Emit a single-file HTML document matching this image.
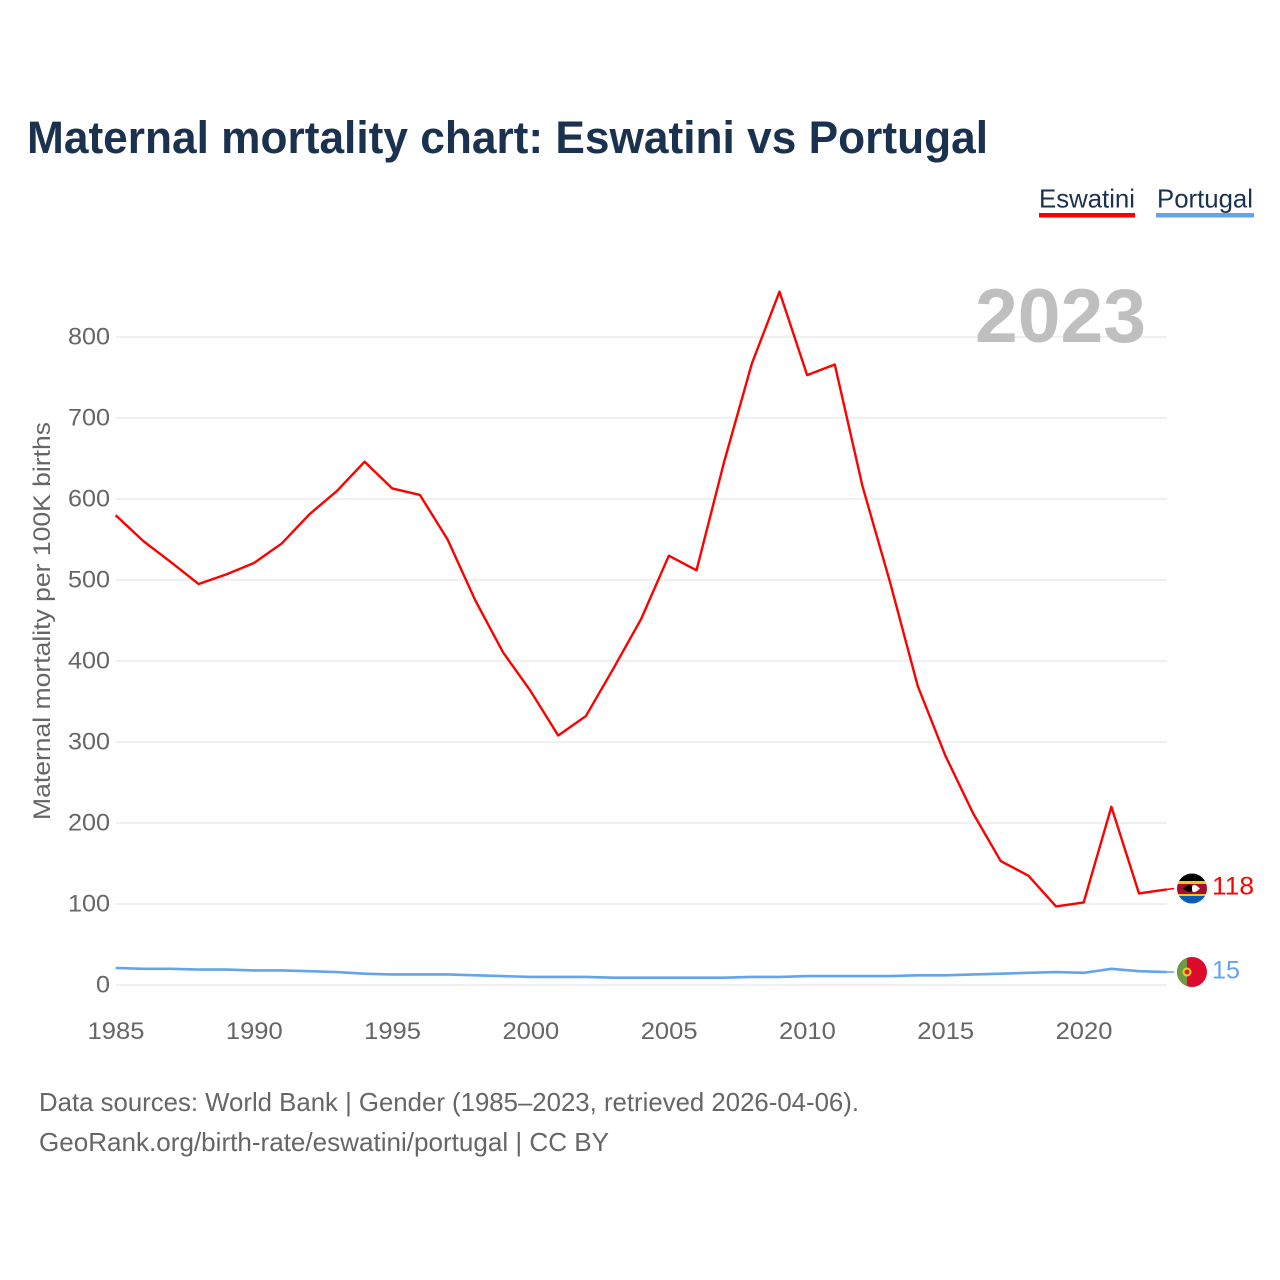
<!DOCTYPE html>
<html lang="en">
<head>
<meta charset="utf-8">
<title>Maternal mortality chart: Eswatini vs Portugal</title>
<style>
html,body{margin:0;padding:0;background:#fff;width:1280px;height:1280px;overflow:hidden}
svg{display:block;font-family:"Liberation Sans",Arial,sans-serif}
</style>
</head>
<body>
<svg id="chart" width="1280" height="1280" viewBox="0 0 1280 1280" xmlns="http://www.w3.org/2000/svg">
  <defs>
    <clipPath id="flag-clip-sz"><circle cx="1192" cy="888.5" r="15"/></clipPath>
    <clipPath id="flag-clip-pt"><circle cx="1192" cy="972" r="15"/></clipPath>
  </defs>
  <text x="27" y="153" font-size="45" font-weight="700" fill="#1a3150" textLength="961" lengthAdjust="spacingAndGlyphs">Maternal mortality chart: Eswatini vs Portugal</text>

  <g>
    <g>
      <text x="1039" y="207.5" font-size="26" fill="#1a3150" textLength="96" lengthAdjust="spacingAndGlyphs">Eswatini</text>
      <rect x="1039" y="213" width="96" height="4.5" fill="#ff0000"/>
    </g>
    <g>
      <text x="1157" y="207.5" font-size="26" fill="#1a3150" textLength="96" lengthAdjust="spacingAndGlyphs">Portugal</text>
      <rect x="1156" y="213" width="98" height="4.5" fill="#63a4ec"/>
    </g>
  </g>

  <g id="grid"></g>
  <text x="975" y="342" font-size="76" font-weight="700" fill="#bfbfbf" textLength="171" lengthAdjust="spacingAndGlyphs">2023</text>
  <g id="y-ticks"></g>
  <g id="x-ticks"></g>
  <text transform="translate(50,621) rotate(-90)" text-anchor="middle" font-size="24" fill="#666666" textLength="398" lengthAdjust="spacingAndGlyphs">Maternal mortality per 100K births</text>

  <g id="series"></g>

  <g clip-path="url(#flag-clip-sz)">
    <rect x="1177" y="873" width="30" height="9" fill="#000000"/>
    <rect x="1177" y="881" width="30" height="3" fill="#f5c518"/>
    <rect x="1177" y="884" width="30" height="10" fill="#a50f2d"/>
    <rect x="1177" y="894" width="30" height="2" fill="#f5c518"/>
    <rect x="1177" y="896" width="30" height="9" fill="#0b5cb5"/>
    <path d="M1183 888.5 Q1192 881 1192 888.5 Q1192 896 1183 888.5Z" fill="#000000"/>
    <path d="M1200 888.5 Q1192 881 1192 888.5 Q1192 896 1200 888.5Z" fill="#ffffff"/>
  </g>
  <g clip-path="url(#flag-clip-pt)">
    <rect x="1177" y="957" width="30" height="30" fill="#dc0a2c"/>
    <rect x="1177" y="957" width="10" height="30" fill="#6f9a45"/>
    <circle cx="1187" cy="972" r="4.5" fill="#f2d21a"/>
    <circle cx="1187" cy="972" r="2.5" fill="#d8203a"/>
  </g>
  <text id="label-sz" x="1212" y="894.5" font-size="25" fill="#ff0000" textLength="42" lengthAdjust="spacingAndGlyphs"></text>
  <text id="label-pt" x="1212" y="978.5" font-size="25" fill="#63a4ec" textLength="28" lengthAdjust="spacingAndGlyphs"></text>

  <g>
    <text x="39" y="1111" font-size="26" fill="#666666" textLength="820" lengthAdjust="spacingAndGlyphs">Data sources: World Bank | Gender (1985–2023, retrieved 2026-04-06).</text>
    <text x="39" y="1151" font-size="26" fill="#666666" textLength="570" lengthAdjust="spacingAndGlyphs">GeoRank.org/birth-rate/eswatini/portugal | CC BY</text>
  </g>
</svg>
<script>
const years = [1985,1986,1987,1988,1989,1990,1991,1992,1993,1994,1995,1996,1997,1998,1999,2000,2001,2002,2003,2004,2005,2006,2007,2008,2009,2010,2011,2012,2013,2014,2015,2016,2017,2018,2019,2020,2021,2022,2023];
const eswatini = [580,548,522,495,507,521,545,581,610,646,613,605,550,475,411,363,308,332,391,452,530,512,646,767,856,753,766,616,497,369,283,212,153,135,97,102,220,113,118];
const portugal = [21,20,20,19,19,18,18,17,16,14,13,13,13,12,11,10,10,10,9,9,9,9,9,10,10,11,11,11,11,12,12,13,14,15,16,15,20,17,16];
const yTicks = [0,100,200,300,400,500,600,700,800];
const xTicks = [1985,1990,1995,2000,2005,2010,2015,2020];
const eswatiniLabel = '118';
const portugalLabel = '15';

const NS = 'http://www.w3.org/2000/svg';
function xScale(year){ return 115.7 + (year - 1985) * (1083.7 - 115.7) / 35; }
function yScale(value){ return 985 - value * 0.81; }
function make(tag, attrs, parent, text){
  const el = document.createElementNS(NS, tag);
  for (const k in attrs) el.setAttribute(k, attrs[k]);
  if (text !== undefined) el.textContent = text;
  parent.appendChild(el);
  return el;
}
const grid = document.getElementById('grid');
const yGroup = document.getElementById('y-ticks');
const xGroup = document.getElementById('x-ticks');
const seriesGroup = document.getElementById('series');

yTicks.forEach(function(v){
  const line = make('line', {x1:116, x2:1167, y1:yScale(v), y2:yScale(v), stroke:'#f0f0f0', 'stroke-width':2}, grid);
  
  
  const s = String(v);
  const t = make('text', {x:110, y:yScale(v)+7.5, 'text-anchor':'end', 'font-size':24, fill:'#666666', textLength:s.length*14, lengthAdjust:'spacingAndGlyphs'}, yGroup, s);
  
  
});
xTicks.forEach(function(y){
  const s = String(y);
  const t = make('text', {x:xScale(y)+0.3, y:1039, 'text-anchor':'middle', 'font-size':24, fill:'#666666', textLength:s.length*14.2, lengthAdjust:'spacingAndGlyphs'}, xGroup, s);
  
  
});
function drawSeries(values, color, name, anchorY, width){
  const pts = values.map(function(v,i){ return xScale(years[i]).toFixed(2) + ',' + yScale(v).toFixed(2); });
  const p = make('polyline', {points:pts.join(' '), fill:'none', stroke:color, 'stroke-width':width, 'stroke-linejoin':'round'}, seriesGroup);
  
  
  const lastX = xScale(years[years.length-1]);
  const lastY = yScale(values[values.length-1]);
  const c = make('line', {x1:lastX, y1:lastY, x2:lastX+7.5, y2:anchorY, stroke:color, 'stroke-width':1.6}, seriesGroup);
  
  
}
drawSeries(portugal, '#63a4ec', 'line-portugal', 972, 2.6);
drawSeries(eswatini, '#ff0000', 'line-eswatini', 888.5, 2.4);
document.getElementById('label-sz').textContent = eswatiniLabel;
document.getElementById('label-pt').textContent = portugalLabel;
</script>
</body>
</html>
